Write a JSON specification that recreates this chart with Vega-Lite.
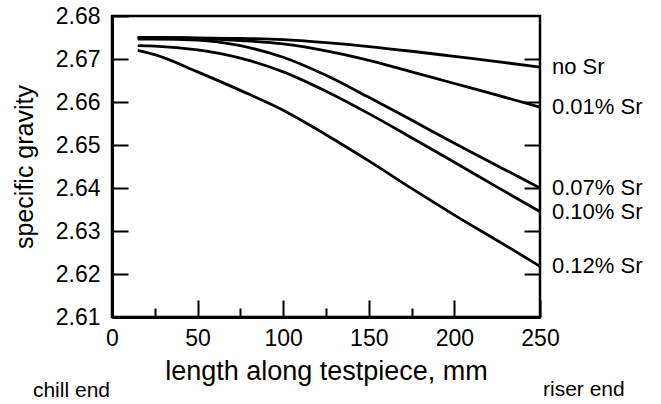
{
  "$schema": "https://vega.github.io/schema/vega-lite/v6.json",
  "autosize": "none",
  "width": 428,
  "height": 301,
  "padding": {"left": 112, "top": 16, "right": 121, "bottom": 87},
  "background": "white",
  "config": {
    "view": {"stroke": "black", "strokeWidth": 2.5},
    "font": "Liberation Sans",
    "axis": {"grid": false, "domainColor": "black", "domainWidth": 3, "tickColor": "black", "tickWidth": 2, "labelColor": "black", "titleColor": "black", "labelFont": "Liberation Sans", "titleFont": "Liberation Sans", "titleFontWeight": "normal"}
  },
  "data": {"values": [
    {"series": "no Sr", "x": 15, "sg": 2.6750}, {"series": "no Sr", "x": 25, "sg": 2.6750}, {"series": "no Sr", "x": 50, "sg": 2.6749}, {"series": "no Sr", "x": 75, "sg": 2.6748}, {"series": "no Sr", "x": 100, "sg": 2.6745}, {"series": "no Sr", "x": 125, "sg": 2.6738}, {"series": "no Sr", "x": 150, "sg": 2.6729}, {"series": "no Sr", "x": 175, "sg": 2.6718}, {"series": "no Sr", "x": 200, "sg": 2.6706}, {"series": "no Sr", "x": 225, "sg": 2.6694}, {"series": "no Sr", "x": 250, "sg": 2.6681},
    {"series": "0.01% Sr", "x": 15, "sg": 2.6750}, {"series": "0.01% Sr", "x": 25, "sg": 2.6750}, {"series": "0.01% Sr", "x": 50, "sg": 2.6748}, {"series": "0.01% Sr", "x": 75, "sg": 2.6743}, {"series": "0.01% Sr", "x": 100, "sg": 2.6735}, {"series": "0.01% Sr", "x": 125, "sg": 2.6719}, {"series": "0.01% Sr", "x": 150, "sg": 2.6697}, {"series": "0.01% Sr", "x": 175, "sg": 2.6670}, {"series": "0.01% Sr", "x": 200, "sg": 2.6643}, {"series": "0.01% Sr", "x": 225, "sg": 2.6616}, {"series": "0.01% Sr", "x": 250, "sg": 2.6588},
    {"series": "0.07% Sr", "x": 15, "sg": 2.6746}, {"series": "0.07% Sr", "x": 25, "sg": 2.6746}, {"series": "0.07% Sr", "x": 50, "sg": 2.6744}, {"series": "0.07% Sr", "x": 75, "sg": 2.6731}, {"series": "0.07% Sr", "x": 100, "sg": 2.6704}, {"series": "0.07% Sr", "x": 125, "sg": 2.6662}, {"series": "0.07% Sr", "x": 150, "sg": 2.6611}, {"series": "0.07% Sr", "x": 175, "sg": 2.6558}, {"series": "0.07% Sr", "x": 200, "sg": 2.6504}, {"series": "0.07% Sr", "x": 225, "sg": 2.6452}, {"series": "0.07% Sr", "x": 250, "sg": 2.6400},
    {"series": "0.10% Sr", "x": 15, "sg": 2.6731}, {"series": "0.10% Sr", "x": 25, "sg": 2.6730}, {"series": "0.10% Sr", "x": 50, "sg": 2.6721}, {"series": "0.10% Sr", "x": 75, "sg": 2.6702}, {"series": "0.10% Sr", "x": 100, "sg": 2.6670}, {"series": "0.10% Sr", "x": 125, "sg": 2.6625}, {"series": "0.10% Sr", "x": 150, "sg": 2.6573}, {"series": "0.10% Sr", "x": 175, "sg": 2.6517}, {"series": "0.10% Sr", "x": 200, "sg": 2.6460}, {"series": "0.10% Sr", "x": 225, "sg": 2.6402}, {"series": "0.10% Sr", "x": 250, "sg": 2.6345},
    {"series": "0.12% Sr", "x": 15, "sg": 2.6720}, {"series": "0.12% Sr", "x": 25, "sg": 2.6710}, {"series": "0.12% Sr", "x": 50, "sg": 2.6670}, {"series": "0.12% Sr", "x": 75, "sg": 2.6627}, {"series": "0.12% Sr", "x": 100, "sg": 2.6581}, {"series": "0.12% Sr", "x": 125, "sg": 2.6524}, {"series": "0.12% Sr", "x": 150, "sg": 2.6463}, {"series": "0.12% Sr", "x": 175, "sg": 2.6399}, {"series": "0.12% Sr", "x": 200, "sg": 2.6337}, {"series": "0.12% Sr", "x": 225, "sg": 2.6278}, {"series": "0.12% Sr", "x": 250, "sg": 2.6218}
  ]},
  "resolve": {"axis": {"x": "independent", "y": "independent"}},
  "layer": [
    {
      "mark": {"type": "line", "color": "black", "strokeWidth": 2.8, "interpolate": "monotone", "clip": true},
      "encoding": {
        "x": {"field": "x", "type": "quantitative", "scale": {"domain": [0, 250], "nice": false},
          "axis": {"orient": "bottom", "values": [0, 50, 100, 150, 200, 250], "tickSize": -17, "labelPadding": 27, "labelFontSize": 23, "title": "length along testpiece, mm", "titleFontSize": 27, "titlePadding": 8, "labelFlush": false}},
        "y": {"field": "sg", "type": "quantitative", "scale": {"domain": [2.61, 2.68], "nice": false, "zero": false},
          "axis": {"orient": "left", "values": [2.61, 2.62, 2.63, 2.64, 2.65, 2.66, 2.67, 2.68], "format": ".2f", "tickSize": -16, "labelPadding": 28, "labelFontSize": 23, "title": "specific gravity", "titleFontSize": 25, "titlePadding": 18, "labelFlush": false}},
        "detail": {"field": "series"}
      }
    },
    {
      "transform": [{"filter": "datum.x == 250"}],
      "mark": {"type": "text", "align": "left", "baseline": "middle", "dx": 12, "fontSize": 22, "color": "black", "clip": false},
      "encoding": {
        "x": {"field": "x", "type": "quantitative",
          "axis": {"orient": "bottom", "values": [25, 75, 125, 175], "tickSize": -9, "labels": false, "domain": false, "title": null}},
        "y": {"field": "sg", "type": "quantitative",
          "axis": {"orient": "right", "values": [2.62, 2.63, 2.64, 2.65, 2.66, 2.67], "tickSize": -16, "labels": false, "domain": false, "title": null}},
        "text": {"field": "series"}
      }
    },
    {
      "data": {"values": [{"label": "chill end"}]},
      "mark": {"type": "text", "align": "right", "baseline": "middle", "dx": -2, "fontSize": 21, "color": "black", "clip": false},
      "encoding": {
        "x": {"datum": 0, "type": "quantitative", "axis": null},
        "y": {"datum": 2.5929, "type": "quantitative", "axis": null},
        "text": {"field": "label"}
      }
    },
    {
      "data": {"values": [{"label": "riser end"}]},
      "mark": {"type": "text", "align": "left", "baseline": "middle", "dx": 3, "fontSize": 21, "color": "black", "clip": false},
      "encoding": {
        "x": {"datum": 250, "type": "quantitative", "axis": null},
        "y": {"datum": 2.5931, "type": "quantitative", "axis": null},
        "text": {"field": "label"}
      }
    }
  ]
}
